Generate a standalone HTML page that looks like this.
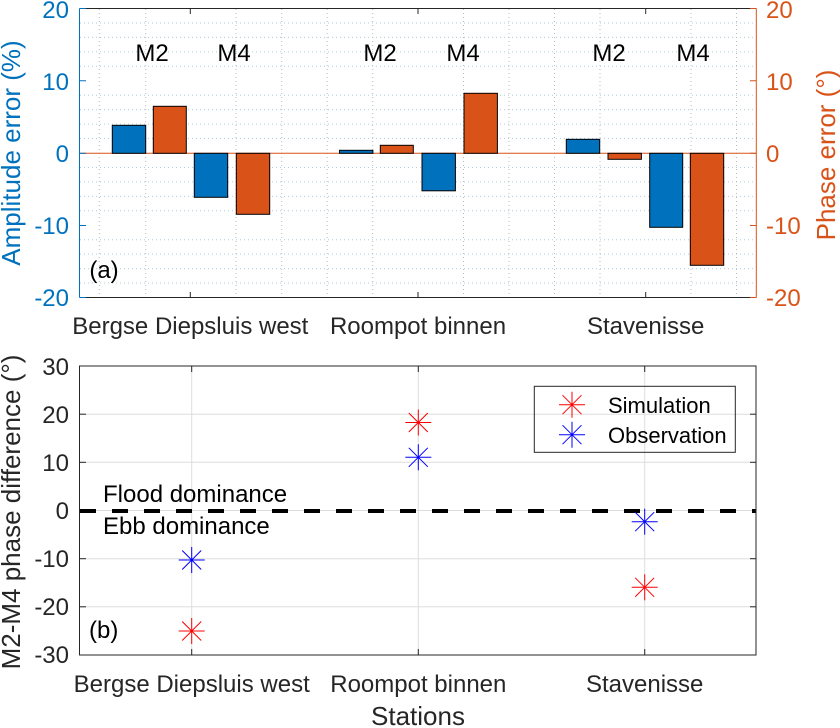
<!DOCTYPE html>
<html><head><meta charset="utf-8"><style>
html,body{margin:0;padding:0;background:#fff;}
svg{display:block;font-family:"Liberation Sans",Arial,sans-serif;}
</style></head><body>
<svg width="840" height="728" viewBox="0 0 840 728" xmlns="http://www.w3.org/2000/svg">
<g stroke="#b0cce0" stroke-width="1" stroke-dasharray="1,3">
<line x1="80" x2="756" y1="22.95" y2="22.95"/><line x1="80" x2="756" y1="37.4" y2="37.4"/><line x1="80" x2="756" y1="51.85" y2="51.85"/><line x1="80" x2="756" y1="66.3" y2="66.3"/>
<line x1="80" x2="756" y1="95.2" y2="95.2"/><line x1="80" x2="756" y1="109.65" y2="109.65"/><line x1="80" x2="756" y1="124.1" y2="124.1"/><line x1="80" x2="756" y1="138.55" y2="138.55"/>
<line x1="80" x2="756" y1="167.45" y2="167.45"/><line x1="80" x2="756" y1="181.9" y2="181.9"/><line x1="80" x2="756" y1="196.35" y2="196.35"/><line x1="80" x2="756" y1="210.8" y2="210.8"/>
<line x1="80" x2="756" y1="239.7" y2="239.7"/><line x1="80" x2="756" y1="254.15" y2="254.15"/><line x1="80" x2="756" y1="268.6" y2="268.6"/><line x1="80" x2="756" y1="283.05" y2="283.05"/>
</g>
<g stroke="#bbbbbb" stroke-width="1" stroke-dasharray="1,3">
<line x1="99.3" x2="99.3" y1="9" y2="297"/><line x1="145.7" x2="145.7" y1="9" y2="297"/><line x1="236" x2="236" y1="9" y2="297"/><line x1="281.7" x2="281.7" y1="9" y2="297"/>
<line x1="327.2" x2="327.2" y1="9" y2="297"/><line x1="372.7" x2="372.7" y1="9" y2="297"/><line x1="463.5" x2="463.5" y1="9" y2="297"/><line x1="509" x2="509" y1="9" y2="297"/>
<line x1="554.5" x2="554.5" y1="9" y2="297"/><line x1="600" x2="600" y1="9" y2="297"/><line x1="691" x2="691" y1="9" y2="297"/><line x1="736.5" x2="736.5" y1="9" y2="297"/>
</g>
<line x1="80" x2="756" y1="153.3" y2="153.3" stroke="#D95319" stroke-width="1"/>
<g stroke="#000" stroke-width="1">
<rect x="112.3" y="125.3" width="33.4" height="28" fill="#0072BD"/>
<rect x="153.3" y="106.3" width="33" height="47" fill="#D95319"/>
<rect x="194.3" y="153.3" width="33.4" height="44" fill="#0072BD"/>
<rect x="236.3" y="153.3" width="33.4" height="61" fill="#D95319"/>
<rect x="339.5" y="150.3" width="33.4" height="3" fill="#0072BD"/>
<rect x="380.3" y="145.3" width="33" height="8" fill="#D95319"/>
<rect x="422" y="153.3" width="33.4" height="37.5" fill="#0072BD"/>
<rect x="464" y="93.3" width="33.4" height="60" fill="#D95319"/>
<rect x="566.3" y="139.3" width="33.4" height="14" fill="#0072BD"/>
<rect x="608" y="153.3" width="33.4" height="6" fill="#D95319"/>
<rect x="649.7" y="153.3" width="33" height="74" fill="#0072BD"/>
<rect x="690.3" y="153.3" width="33.4" height="112" fill="#D95319"/>
</g>
<g fill="#000" font-size="24" text-anchor="middle">
<text x="152" y="61">M2</text><text x="234" y="61">M4</text>
<text x="380" y="61">M2</text><text x="463" y="61">M4</text>
<text x="609" y="61">M2</text><text x="693" y="61">M4</text>
<text x="104" y="278">(a)</text>
</g>
<line x1="79.5" x2="756.3" y1="8.5" y2="8.5" stroke="#262626"/>
<line x1="79.5" x2="756.3" y1="297.5" y2="297.5" stroke="#262626"/>
<g stroke="#262626"><line x1="190.3" x2="190.3" y1="8.5" y2="14"/><line x1="418" x2="418" y1="8.5" y2="14"/><line x1="645.7" x2="645.7" y1="8.5" y2="14"/>
<line x1="190.3" x2="190.3" y1="297.5" y2="292"/><line x1="418" x2="418" y1="297.5" y2="292"/><line x1="645.7" x2="645.7" y1="297.5" y2="292"/></g>
<g stroke="#0072BD"><line x1="79.5" x2="79.5" y1="8.5" y2="297.5"/>
<line x1="79.5" x2="86" y1="8.5" y2="8.5"/><line x1="79.5" x2="86" y1="80.75" y2="80.75"/><line x1="79.5" x2="86" y1="153.3" y2="153.3"/><line x1="79.5" x2="86" y1="225.5" y2="225.5"/><line x1="79.5" x2="86" y1="297.5" y2="297.5"/></g>
<g stroke="#D95319"><line x1="756.3" x2="756.3" y1="8.5" y2="297.5"/>
<line x1="756.3" x2="750" y1="8.5" y2="8.5"/><line x1="756.3" x2="750" y1="80.75" y2="80.75"/><line x1="756.3" x2="750" y1="153.3" y2="153.3"/><line x1="756.3" x2="750" y1="225.5" y2="225.5"/><line x1="756.3" x2="750" y1="297.5" y2="297.5"/></g>
<g fill="#0072BD" font-size="24" text-anchor="end">
<text x="69" y="18">20</text><text x="69" y="90">10</text><text x="69" y="162">0</text><text x="69" y="234">-10</text><text x="69" y="306">-20</text>
</g>
<text transform="translate(20,153) rotate(-90)" fill="#0072BD" font-size="26" text-anchor="middle">Amplitude error (%)</text>
<g fill="#D95319" font-size="24" text-anchor="start">
<text x="766" y="18">20</text><text x="766" y="90">10</text><text x="766" y="162">0</text><text x="766" y="234">-10</text><text x="766" y="306">-20</text>
</g>
<text transform="translate(835,155) rotate(-90)" fill="#D95319" font-size="26" text-anchor="middle">Phase error (°)</text>
<g fill="#262626" font-size="24" text-anchor="middle">
<text x="190.3" y="334">Bergse Diepsluis west</text><text x="418" y="334">Roompot binnen</text><text x="645.7" y="334">Stavenisse</text>
</g>

<g stroke="#dddddd" stroke-width="1">
<line x1="80" x2="756" y1="414.2" y2="414.2"/><line x1="80" x2="756" y1="462.3" y2="462.3"/><line x1="80" x2="756" y1="510.5" y2="510.5"/><line x1="80" x2="756" y1="558.7" y2="558.7"/><line x1="80" x2="756" y1="606.8" y2="606.8"/>
<line x1="191.7" x2="191.7" y1="366" y2="655"/><line x1="418.3" x2="418.3" y1="366" y2="655"/><line x1="644.7" x2="644.7" y1="366" y2="655"/>
</g>
<line x1="80" x2="756" y1="511" y2="511" stroke="#000" stroke-width="4" stroke-dasharray="16,16"/>
<rect x="79.5" y="366" width="676.5" height="289" fill="none" stroke="#262626"/>
<g stroke="#262626">
<line x1="79.5" x2="86" y1="414.2" y2="414.2"/><line x1="79.5" x2="86" y1="462.3" y2="462.3"/><line x1="79.5" x2="86" y1="558.7" y2="558.7"/><line x1="79.5" x2="86" y1="606.8" y2="606.8"/>
<line x1="756" x2="750" y1="414.2" y2="414.2"/><line x1="756" x2="750" y1="462.3" y2="462.3"/><line x1="756" x2="750" y1="558.7" y2="558.7"/><line x1="756" x2="750" y1="606.8" y2="606.8"/>
<line x1="191.7" x2="191.7" y1="366" y2="372"/><line x1="418.3" x2="418.3" y1="366" y2="372"/><line x1="644.7" x2="644.7" y1="366" y2="372"/>
<line x1="191.7" x2="191.7" y1="655" y2="649"/><line x1="418.3" x2="418.3" y1="655" y2="649"/><line x1="644.7" x2="644.7" y1="655" y2="649"/>
</g>
<defs>
<g id="star"><line x1="-13" x2="13" y1="0" y2="0"/><line x1="0" x2="0" y1="-13" y2="13"/><line x1="-9.5" x2="9.5" y1="-9.5" y2="9.5"/><line x1="-9.5" x2="9.5" y1="9.5" y2="-9.5"/></g>
</defs>
<g stroke="#ff0000" stroke-width="1">
<use href="#star" x="191.7" y="631"/><use href="#star" x="418.3" y="422.5"/><use href="#star" x="644.7" y="587.3"/><use href="#star" x="572" y="404.7"/>
</g>
<g stroke="#0000ff" stroke-width="1">
<use href="#star" x="191.7" y="560"/><use href="#star" x="418.3" y="457.3"/><use href="#star" x="644.7" y="521.7"/><use href="#star" x="572" y="434.7"/>
</g>
<rect x="534.3" y="386.3" width="201" height="66" fill="none" stroke="#262626"/>
<g fill="#000" font-size="22">
<text x="608" y="413">Simulation</text><text x="608" y="443">Observation</text>
</g>
<g fill="#000" font-size="24">
<text x="103" y="502">Flood dominance</text><text x="103" y="534">Ebb dominance</text>
<text x="89" y="638">(b)</text>
</g>
<g fill="#262626" font-size="24" text-anchor="end">
<text x="69" y="375">30</text><text x="69" y="423">20</text><text x="69" y="471">10</text><text x="69" y="519">0</text><text x="69" y="567">-10</text><text x="69" y="615">-20</text><text x="69" y="663">-30</text>
</g>
<text transform="translate(20,512) rotate(-90)" fill="#262626" font-size="26" text-anchor="middle">M2-M4 phase difference (°)</text>
<g fill="#262626" font-size="24" text-anchor="middle">
<text x="191.7" y="692">Bergse Diepsluis west</text><text x="418.3" y="692">Roompot binnen</text><text x="644.7" y="692">Stavenisse</text>
</g>
<text x="418" y="725" fill="#262626" font-size="26" text-anchor="middle">Stations</text>
</svg>
</body></html>
